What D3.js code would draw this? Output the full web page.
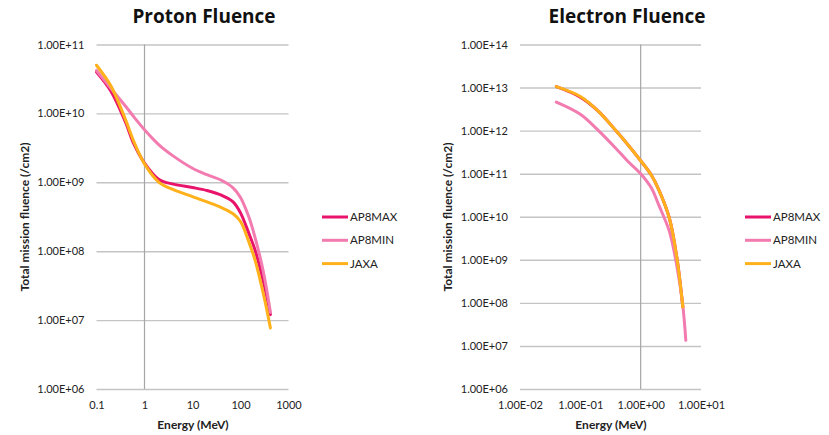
<!DOCTYPE html>
<html lang="en">
<head>
<meta charset="utf-8" />
<title>Proton / Electron Fluence</title>
<style>
  body  { margin:0; background:#fff; font-family:Lato,"Open Sans",sans-serif; }
  svg   { display:block; }
  .grid line   { stroke:#c4c4c4; stroke-width:1.4px; }
  .grid .domain{ display:none; }
  .tick text   { font-size:11px; fill:#222; font-family:Lato,sans-serif; }
  .title       { font-size:19px; font-weight:700; fill:#111; font-family:"Open Sans",sans-serif; }
  .axisTitle   { font-size:12px; font-weight:700; fill:#222; }
  .legend text { font-size:11.5px; fill:#222; }
</style>
</head>
<body>
<svg width="829" height="435"></svg>
<script src="https://cdn.jsdelivr.net/npm/d3@7"></script>
<script>
/* ---------- DATA ---------- */
const seriesNames  = ["AP8MAX", "AP8MIN", "JAXA"];
const seriesColors = ["#e8136b", "#f27bb0", "#ffb11b"];

// proton fluence (/cm2) vs energy (MeV)
const protonEnergy = [0.1, 0.2, 0.4, 0.6, 1, 2, 4, 10, 20, 40, 70, 100, 150, 200, 300, 420];
const protonAP8MAX = [4.0e10, 2.1e10, 7.5e9, 3.6e9, 1.9e9, 1.1e9, 9.4e8, 8.4e8, 7.6e8, 6.5e8, 5.2e8, 3.6e8, 1.8e8, 1.05e8, 3.6e7, 1.2e7];
const protonAP8MIN = [4.2e10, 2.3e10, 1.28e10, 8.9e9, 5.8e9, 3.5e9, 2.4e9, 1.6e9, 1.29e9, 1.07e9, 8.3e8, 6.0e8, 3.1e8, 1.6e8, 5.0e7, 1.3e7];
const protonJAXA   = [5.0e10, 2.5e10, 8.2e9, 3.9e9, 1.85e9, 1.0e9, 7.8e8, 6.2e8, 5.2e8, 4.3e8, 3.5e8, 2.7e8, 1.35e8, 7.5e7, 2.4e7, 7.7e6];

// electron fluence (/cm2) vs energy (MeV)
const electronEnergy = [0.04, 0.1, 0.2, 0.4, 0.6, 1, 1.5, 2, 3, 4, 5, 5.6];
const electronAP8MAX = [1.05e13, 6.0e12, 2.8e12, 9.5e11, 4.9e11, 2.0e11, 9.3e10, 4.2e10, 9.1e9, 1.07e9, 8.0e7, null];
const electronAP8MIN = [4.6e12, 2.4e12, 1.0e12, 3.7e11, 2.0e11, 1.0e11, 4.7e10, 1.86e10, 4.5e9, 6.9e8, 8.5e7, 1.35e7];
const electronJAXA   = [1.05e13, 6.2e12, 2.8e12, 9.5e11, 4.9e11, 2.0e11, 9.3e10, 4.2e10, 9.1e9, 1.07e9, 8.0e7, null];

const protonXTicks   = [0.1, 1, 10, 100, 1000];
const protonYTicks   = [1e6, 1e7, 1e8, 1e9, 1e10, 1e11];
const electronXTicks = [1e-2, 1e-1, 1e0, 1e1];
const electronYTicks = [1e6, 1e7, 1e8, 1e9, 1e10, 1e11, 1e12, 1e13, 1e14];

/* ---------- HELPERS ---------- */
// 1.00E+06 style, as Excel shows it
function sci(v){
  const [m, e] = v.toExponential(2).split("e");
  const n = +e;
  return m + "E" + (n < 0 ? "-" : "+") + String(Math.abs(n)).padStart(2, "0");
}

const svg = d3.select("svg");

function drawChart(cfg){
  const g = svg.append("g");
  const x = d3.scaleLog().domain(cfg.xDomain).range(cfg.xRange);
  const y = d3.scaleLog().domain(cfg.yDomain).range(cfg.yRange);

  // horizontal gridlines + y labels
  const ya = g.append("g")
      .attr("class", "grid")
      .attr("transform", `translate(${cfg.xRange[0]},0)`)
      .call(d3.axisLeft(y).tickValues(cfg.yTicks).tickFormat(sci)
              .tickSize(-(cfg.xRange[1] - cfg.xRange[0])).tickPadding(12));
  ya.selectAll(".tick text").attr("x", -12);

  // x labels
  const xa = g.append("g")
      .attr("class", "grid")
      .attr("transform", `translate(0,${cfg.yRange[0]})`)
      .call(d3.axisBottom(x).tickValues(cfg.xTicks).tickFormat(cfg.xFormat)
              .tickSize(0).tickPadding(12));
  xa.selectAll("line").remove();

  // vertical axis line where value axis crosses
  g.append("line")
      .attr("x1", x(cfg.cross)).attr("x2", x(cfg.cross))
      .attr("y1", cfg.yRange[1]).attr("y2", cfg.yRange[0])
      .attr("stroke", "#a6a6a6").attr("stroke-width", 1.2);

  // series (smoothed like Excel)
  const line = d3.line()
      .defined(d => d[1] != null)
      .x(d => x(d[0])).y(d => y(d[1]))
      .curve(d3.curveCatmullRom.alpha(0.5));

  cfg.series.forEach((vals, i) => {
    g.append("path")
      .datum(cfg.energy.map((e, j) => [e, vals[j]]))
      .attr("d", line)
      .attr("fill", "none")
      .attr("stroke", seriesColors[i])
      .attr("stroke-width", 3)
      .attr("stroke-linecap", "round")
      .attr("stroke-linejoin", "round");
  });

  // titles
  g.append("text").attr("class", "title")
      .attr("x", cfg.titleX).attr("y", 23)
      .attr("text-anchor", "middle").text(cfg.title);

  g.append("text").attr("class", "axisTitle")
      .attr("x", cfg.xTitleX).attr("y", 429)
      .attr("text-anchor", "middle").text("Energy (MeV)");

  g.append("text").attr("class", "axisTitle")
      .attr("transform", `translate(${cfg.yTitleX},217) rotate(-90)`)
      .attr("text-anchor", "middle").text("Total mission fluence (/cm2)");

  // legend
  const lg = g.append("g").attr("class", "legend")
      .attr("transform", `translate(${cfg.legendX},217)`);
  seriesNames.forEach((name, i) => {
    const row = lg.append("g").attr("transform", `translate(0,${i * 23.3})`);
    row.append("line").attr("x1", 0).attr("x2", 26)
        .attr("stroke", seriesColors[i]).attr("stroke-width", 3);
    row.append("text").attr("x", 28).attr("dy", "0.36em").text(name);
  });
}

drawChart({
  title: "Proton Fluence", titleX: 204, xTitleX: 193, yTitleX: 29, legendX: 322,
  xDomain: [0.1, 1000], xRange: [96.5, 288.5],
  yDomain: [1e6, 1e11], yRange: [389, 44.5],
  xTicks: protonXTicks, yTicks: protonYTicks, cross: 1,
  xFormat: d => String(d),
  energy: protonEnergy,
  series: [protonAP8MAX, protonAP8MIN, protonJAXA]
});

drawChart({
  title: "Electron Fluence", titleX: 627, xTitleX: 611, yTitleX: 452, legendX: 745,
  xDomain: [1e-2, 1e1], xRange: [520, 701],
  yDomain: [1e6, 1e14], yRange: [389, 44.5],
  xTicks: electronXTicks, yTicks: electronYTicks, cross: 1,
  xFormat: sci,
  energy: electronEnergy,
  series: [electronAP8MAX, electronAP8MIN, electronJAXA]
});
</script>
</body>
</html>
